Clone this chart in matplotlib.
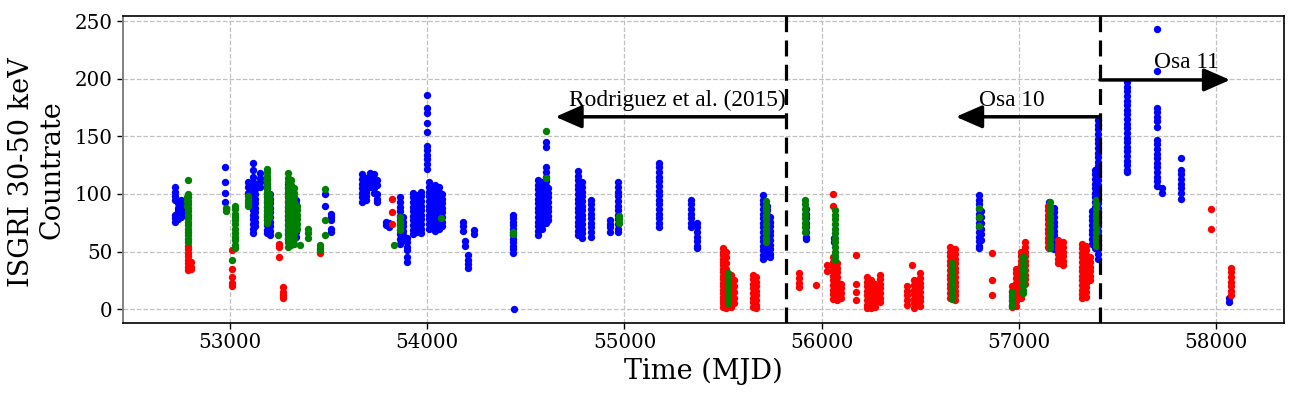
import matplotlib
matplotlib.use("Agg")
import matplotlib.pyplot as plt

# Observed count rates, grouped per pointing-group: (MJD, [rates])
blue_groups = [
    (52722, [106, 102, 98, 95, 82, 79, 76]),
    (52735, [92, 88, 85, 81, 78]),
    (52750, [95, 91, 87, 84, 80]),
    (52762, [90, 86, 83]),
    (52975, [123, 110, 101, 93]),
    (53090, [110, 106, 101]),
    (53116, [127, 121, 115, 110, 106, 102, 98, 94, 90, 86, 82, 78, 74, 70, 66]),
    (53125, [108, 104, 100, 96, 92, 88, 84, 80, 76, 72]),
    (53152, [118, 114, 110, 106]),
    (53190, [113, 109, 105, 101, 97, 93, 89, 85, 81, 77, 73, 69, 66]),
    (53205, [100, 96, 92, 88, 84, 80, 76, 72, 68, 64]),
    (53295, [109, 105, 101, 97, 93, 89, 85, 81, 77, 73, 69, 65, 61]),
    (53315, [104, 100, 96, 92, 88, 84, 80, 76, 72, 68, 64, 60, 58]),
    (53335, [95, 91, 87, 83, 79, 75, 71, 67, 63]),
    (53480, [100, 90]),
    (53510, [83, 80, 77, 70, 67]),
    (53672, [117, 113, 109, 105, 101, 97, 93]),
    (53690, [114, 110, 106, 102, 98, 95]),
    (53710, [118, 114, 110, 106]),
    (53730, [117, 113, 109, 105, 101]),
    (53748, [112, 108, 100, 96, 93]),
    (53790, [76, 73]),
    (53808, [75, 71]),
    (53862, [97, 93, 89, 85, 81, 77, 73, 69, 65, 61, 57]),
    (53875, [80, 76, 72, 68, 64, 60]),
    (53900, [62, 58, 54, 51, 45, 41]),
    (53926, [101, 97, 93, 89, 85, 81, 77, 73, 69, 65]),
    (53950, [99, 95, 91, 87, 83, 79, 75, 71, 67]),
    (53970, [102, 98, 94, 90, 86, 82, 78, 74, 70, 66]),
    (54000, [186, 175, 170, 162, 154, 142, 138, 134, 130, 126, 122]),
    (54010, [110, 106, 102, 98, 94, 90, 86, 82, 78, 74, 70]),
    (54040, [108, 104, 100, 96, 92, 88, 84, 80, 76, 72, 68]),
    (54060, [106, 102, 98, 94, 90, 86, 82, 78, 74, 70]),
    (54075, [100, 96, 92, 88, 84, 80, 76, 72]),
    (54180, [76, 72, 68]),
    (54192, [59, 55]),
    (54207, [47, 43, 39, 36]),
    (54235, [69, 65]),
    (54433, [82, 79, 76, 73, 70, 67, 64, 61, 58, 55, 52, 49]),
    (54440, [0.5]),
    (54562, [112, 108, 104, 100, 96, 92, 88, 84, 80, 76, 72, 68, 64]),
    (54580, [110, 106, 102, 98, 94, 90, 86, 82, 78, 74, 70]),
    (54600, [145, 141, 123, 119, 115, 111, 107, 103, 99, 95, 91, 87, 83, 79, 75]),
    (54610, [105, 101, 97, 93, 89, 85, 81, 77]),
    (54765, [120, 116, 112, 108, 104, 100, 96, 92, 88, 84, 80, 76, 72, 68, 64]),
    (54785, [110, 106, 102, 98, 94, 90, 86, 82, 78, 74, 70, 66, 62]),
    (54830, [95, 91, 87, 83, 79, 75, 71, 67, 63]),
    (54925, [77, 74, 71, 67]),
    (54965, [110, 106, 102, 98, 94, 90, 86, 82, 78, 74, 70, 67]),
    (55177, [127, 123, 119, 115, 111, 107, 103, 99, 95, 91, 87, 83, 79, 75, 71]),
    (55339, [95, 91, 87, 83, 79, 75, 71]),
    (55370, [75, 71, 67, 63, 59, 55, 53]),
    (55700, [99, 95, 91, 87, 83, 79, 75, 71, 67, 63, 59, 55, 51, 47, 44]),
    (55720, [90, 86, 82, 78, 74, 70, 66, 62, 58, 54, 50, 46]),
    (55740, [80, 76, 72, 68, 64, 60, 56, 52, 48, 45]),
    (55918, [87, 83, 79, 75, 71, 67, 63, 61]),
    (56062, [62, 58]),
    (56795, [99, 95, 91, 87, 83, 79, 75, 71, 67, 63, 59, 55, 53]),
    (56805, [85, 80, 75, 70, 65, 60]),
    (57150, [93, 89, 85, 81, 77, 73, 69, 65, 61, 57, 53]),
    (57175, [88, 84, 80, 76, 72, 68, 64, 60, 56, 52]),
    (57215, [50, 46]),
    (57370, [85, 81, 77, 73, 69, 65, 61, 57]),
    (57385, [121, 117, 113, 109, 105, 101, 97, 93, 89, 85, 81, 77, 73, 69, 65, 61, 57, 53]),
    (57400, [164, 160, 156, 152, 148, 144, 140, 136, 132, 128, 124, 120, 116, 112, 108,
             104, 100, 96, 92, 88, 84, 80, 76, 72, 68, 64, 60, 56, 52, 48, 44]),
    (57545, [197, 193, 189, 185, 181, 177, 173, 169, 165, 161, 157, 153, 149, 145, 141,
             137, 133, 129, 125, 121, 119]),
    (57700, [243, 207, 175, 171, 167, 163, 158, 147, 143, 139, 135, 131, 127, 123, 119,
             115, 111, 107]),
    (57725, [105, 101]),
    (57820, [131, 121, 117, 113, 109, 105, 101, 96]),
    (58063, [10, 6]),
]

green_groups = [
    (52780, [97, 94, 90]),
    (52790, [112, 100, 97, 94, 91, 88, 85, 82, 79, 76, 73, 70, 67, 64, 61, 58]),
    (52980, [88, 85]),
    (53012, [43]),
    (53025, [90, 87, 83, 80, 77, 74, 70, 66, 63, 60, 56, 53]),
    (53090, [98, 95, 92, 90]),
    (53187, [122, 119, 116, 113, 110, 107, 104, 101, 98, 95, 92, 89, 86, 83, 80, 77, 75]),
    (53197, [100, 96, 92, 88, 84, 80]),
    (53245, [64]),
    (53295, [118, 114, 110, 106, 102, 98, 94, 90, 86, 82, 78, 74, 70, 66, 62, 58, 54]),
    (53310, [112, 108, 104, 100, 96, 92, 88, 84, 80, 76, 72, 68, 64, 60, 56]),
    (53325, [105, 101, 97, 93, 89, 85, 81, 77, 73, 69, 65, 61, 57]),
    (53340, [90, 86, 82, 78, 74, 70]),
    (53355, [56]),
    (53395, [70, 66, 62]),
    (53455, [56, 53, 51]),
    (53480, [104, 77, 64]),
    (53830, [56]),
    (53860, [80, 76, 72, 69]),
    (54070, [79]),
    (54433, [67, 65]),
    (54600, [155, 114]),
    (54970, [81, 78, 75]),
    (55525, [31, 28, 25, 22, 19, 16, 13, 10, 7, 5]),
    (55715, [94, 90, 86, 82, 78, 74, 70, 66, 62, 58]),
    (55915, [95, 91, 87, 83, 79, 75, 71, 67]),
    (56068, [86, 82, 78, 74, 70, 66, 62, 58, 54, 50, 46, 43]),
    (56662, [40, 36, 32, 28, 24, 20, 16, 12, 9]),
    (56795, [88, 80, 72]),
    (56962, [15, 11, 7, 3]),
    (57020, [45, 41, 37, 33, 29, 25, 21, 17, 14]),
    (57155, [93, 89, 85, 81, 77, 73, 69, 65, 61, 57, 53]),
    (57390, [95, 91, 87, 83, 79, 75, 71, 67, 63, 59, 55]),
]

red_groups = [
    (52790, [55, 52, 49, 46, 43, 40, 37, 34]),
    (52802, [41, 37, 35]),
    (53010, [51, 35, 28, 23, 20]),
    (53187, [83]),
    (53248, [57, 54, 45]),
    (53268, [19, 15, 12, 10]),
    (53455, [49]),
    (53820, [96, 84, 74]),
    (55500, [53, 50, 47, 44, 41, 38, 35, 32, 29, 26, 23, 20, 17, 14, 11, 8, 5, 2]),
    (55515, [50, 45, 40, 35, 30, 25, 20, 15, 10, 5, 1]),
    (55540, [30, 26, 22, 18, 14, 10, 6, 2]),
    (55555, [25, 20, 15, 10, 5]),
    (55650, [30, 26, 22, 18, 14, 10, 6, 2]),
    (55668, [28, 24, 20, 16, 12, 8, 4, 1]),
    (55886, [31, 27, 23, 19]),
    (55972, [21]),
    (56028, [38, 33]),
    (56058, [100, 90, 45, 41, 37, 33, 29, 25, 21, 17, 13, 9]),
    (56078, [40, 36, 32, 28, 24, 20, 16, 12, 8]),
    (56095, [22, 18, 14, 10]),
    (56174, [47, 22, 15, 8]),
    (56228, [28, 24, 20, 16, 12, 8, 4, 1]),
    (56250, [25, 21, 17, 13, 9, 5, 1]),
    (56272, [22, 18, 14, 10, 6, 2]),
    (56295, [30, 26, 22, 18, 14, 10, 6]),
    (56430, [20, 16, 12, 8, 4]),
    (56455, [38]),
    (56470, [25, 21, 17, 13, 9, 5, 1]),
    (56500, [31, 27, 23, 19, 15, 11, 7, 3]),
    (56648, [54, 50, 46, 42, 38, 34, 30, 26, 22, 18, 14, 10]),
    (56675, [52, 48, 44, 40, 36, 32, 28, 24, 20, 16, 12, 8]),
    (56863, [49, 25, 12]),
    (56962, [20, 16, 12, 8, 4, 2]),
    (56985, [35, 31, 27, 23, 19, 15, 11, 7, 3]),
    (57010, [50, 46, 42, 38, 34, 30, 26, 22, 18, 14, 10]),
    (57030, [58, 54, 50, 46, 42, 38, 34, 30, 26, 22]),
    (57145, [90, 86, 82, 78, 74, 70, 66, 62, 58, 54]),
    (57195, [60, 56, 52, 48, 44, 40]),
    (57225, [58, 54, 50, 46, 42, 38]),
    (57318, [57, 53, 49, 45, 41, 37, 33, 29, 25, 21, 17, 13, 10]),
    (57340, [55, 51, 47, 43, 39, 35, 31, 27, 23, 19, 15, 11]),
    (57360, [45, 41, 37, 33, 29, 25]),
    (57972, [87, 70]),
    (58073, [36, 32, 28, 24, 20, 16, 12]),
]

x_ticks = [53000, 54000, 55000, 56000, 57000, 58000]
y_ticks = [0, 50, 100, 150, 200, 250]
boundary_rodriguez = 55820
boundary_osa = 57410


def flatten(groups):
    xs, ys = [], []
    for t, vals in groups:
        for v in vals:
            xs.append(t)
            ys.append(v)
    return xs, ys


fig = plt.figure(figsize=(13, 3.96), dpi=100)
ax = fig.add_axes([0.0946, 0.1843, 0.8934, 0.7753])

for groups, col in [(blue_groups, "blue"), (red_groups, "red"), (green_groups, "green")]:
    xs, ys = flatten(groups)
    ax.scatter(xs, ys, s=28, c=col, linewidths=0, zorder=3)

ax.set_xlim(52458, 58345)
ax.set_ylim(-12, 254.5)
ax.set_xticks(x_ticks)
ax.set_yticks(y_ticks)
ax.grid(True, color="#c0c0c0", linestyle="--", linewidth=0.9, zorder=0)
ax.set_axisbelow(True)

for side in ["top", "right", "bottom"]:
    ax.spines[side].set_color("black")
    ax.spines[side].set_linewidth(1.2)
ax.spines["left"].set_color("#808080")
ax.spines["left"].set_linewidth(1.4)

ax.tick_params(axis="both", labelsize=14.3, length=4, width=1)
for lab in ax.get_xticklabels() + ax.get_yticklabels():
    lab.set_family("DejaVu Serif")

ax.set_xlabel("Time (MJD)", fontsize=19.5, family="DejaVu Serif", labelpad=4)
fig.text(22 / 1300, 1 - 172 / 396, "ISGRI 30-50 keV", rotation=90, ha="center", va="center",
         fontsize=19.5, family="DejaVu Serif")
fig.text(52 / 1300, 1 - 170 / 396, "Countrate", rotation=90, ha="center", va="center",
         fontsize=19.5, family="DejaVu Serif")

for xb in [boundary_rodriguez, boundary_osa]:
    ax.axvline(xb, color="black", linewidth=2.3, dashes=(5, 2.6), zorder=4)

arrow_kw = dict(arrowstyle="-|>,head_length=0.8,head_width=0.35", color="black",
                lw=2.5, mutation_scale=20, shrinkA=0, shrinkB=0)
ax.annotate("", xy=(54650, 167), xytext=(boundary_rodriguez, 167), arrowprops=arrow_kw, zorder=5)
ax.annotate("", xy=(56680, 167), xytext=(boundary_osa, 167), arrowprops=arrow_kw, zorder=5)
ax.annotate("", xy=(58070, 199), xytext=(boundary_osa, 199), arrowprops=arrow_kw, zorder=5)

ann_font = dict(family="Liberation Serif", fontsize=16.8, color="black")
ax.text(55270, 181, "Rodriguez et al. (2015)", ha="center", va="center", **ann_font)
ax.text(56965, 181, "Osa 10", ha="center", va="center", **ann_font)
ax.text(57850, 214, "Osa 11", ha="center", va="center", **ann_font)

fig.savefig("out.png", dpi=100)
